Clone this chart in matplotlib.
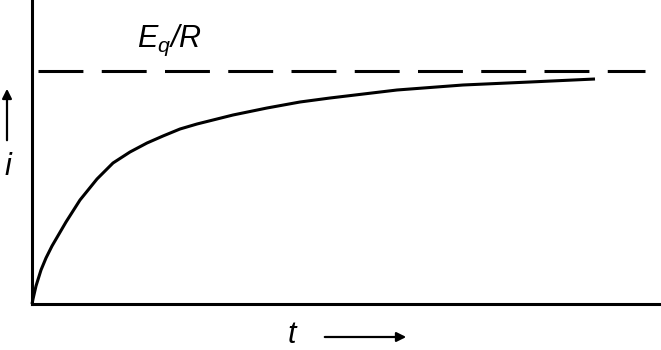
import matplotlib
matplotlib.use("Agg")
import matplotlib.pyplot as plt
from matplotlib.patches import FancyArrowPatch

plt.rcParams['font.family'] = ['Liberation Sans', 'DejaVu Sans']
plt.rcParams['mathtext.fontset'] = 'custom'
plt.rcParams['mathtext.it'] = 'Liberation Sans:italic'
plt.rcParams['mathtext.rm'] = 'Liberation Sans:italic'

# current curve (arbitrary units)
t_vals = [0, 1, 4, 9, 14, 20, 27, 34, 48, 65, 81, 98, 115, 131, 148, 165,
          201, 235, 268, 298, 365, 431, 498, 563]
i_vals = [0, 5, 18, 34, 46, 58, 70, 82, 104, 125, 141, 152, 161, 168, 175, 180,
          189, 196, 202, 206, 214, 219, 222, 225]
i_limit = 233  # Eq/R
t_max = 629
i_max = 304

fig = plt.figure(figsize=(6.61, 3.5), dpi=100)
ax = fig.add_axes([32 / 661, 46 / 350, 629 / 661, 304 / 350])
ax.set_xlim(0, t_max)
ax.set_ylim(0, i_max)
for s in ['top', 'right']:
    ax.spines[s].set_visible(False)
for s in ['left', 'bottom']:
    ax.spines[s].set_linewidth(2.2)
ax.set_xticks([])
ax.set_yticks([])

ax.plot(t_vals, i_vals, color='black', lw=2.2, solid_capstyle='butt',
        solid_joinstyle='round', clip_on=False)
ax.plot([6, 613], [i_limit, i_limit], color='black', lw=2.2, dashes=(14.7, 6.0), dash_capstyle='butt')

ax.text(105, 257, r'$E_q/R$', fontsize=22, ha='left', va='baseline')

# axis labels with arrows (figure pixel coords)
fig.text(8 / 661, 1 - 175 / 350, 'i', fontsize=22, style='italic', ha='center', va='baseline')
fig.text(292 / 661, 1 - 343 / 350, 't', fontsize=22, style='italic', ha='center', va='baseline')
fig.add_artist(FancyArrowPatch(
    (7 / 661, 1 - 143 / 350), (7 / 661, 1 - 86 / 350), transform=fig.transFigure,
    arrowstyle='-|>', mutation_scale=14, lw=1.6, color='black'))
fig.add_artist(FancyArrowPatch(
    (322 / 661, 1 - 337 / 350), (409 / 661, 1 - 337 / 350), transform=fig.transFigure,
    arrowstyle='-|>', mutation_scale=14, lw=1.6, color='black'))

fig.savefig('out.png', dpi=100)
